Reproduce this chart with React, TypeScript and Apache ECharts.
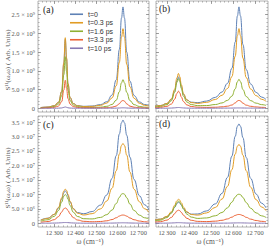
import { useEffect, useRef } from "react";
import * as echarts from "echarts";

// frequency grid (cm^-1)
const omega = [12235, 12270, 12300, 12320, 12335, 12345, 12352, 12358, 12365, 12375, 12390, 12410, 12440, 12480, 12520, 12550, 12575, 12595, 12610, 12620, 12627, 12634, 12645, 12660, 12680, 12705, 12730, 12750];

const seriesNames = ["t=0", "t=0.3 ps", "t=1.6 ps", "t=3.3 ps", "t=10 ps"];
const colors = ["#5e81b5", "#e19c24", "#8fb032", "#eb6235", "#8778b3"];

// panel (a), units of 1e9
const A_t0 = [0.019, 0.033, 0.069, 0.159, 0.446, 1.195, 1.834, 1.318, 0.649, 0.283, 0.126, 0.070, 0.052, 0.059, 0.097, 0.175, 0.351, 0.761, 1.570, 2.407, 2.702, 2.407, 1.494, 0.727, 0.338, 0.168, 0.099, 0.071];
const A_t03 = [0.018, 0.031, 0.068, 0.161, 0.455, 1.225, 1.881, 1.351, 0.663, 0.286, 0.125, 0.067, 0.046, 0.049, 0.078, 0.138, 0.276, 0.599, 1.234, 1.891, 2.122, 1.891, 1.173, 0.571, 0.266, 0.132, 0.078, 0.056];
const A_t16 = [0.011, 0.021, 0.047, 0.114, 0.330, 0.893, 1.374, 0.985, 0.481, 0.205, 0.086, 0.042, 0.024, 0.021, 0.030, 0.051, 0.101, 0.216, 0.443, 0.679, 0.762, 0.679, 0.421, 0.205, 0.096, 0.048, 0.029, 0.020];
const A_t33 = [0.005, 0.011, 0.025, 0.061, 0.178, 0.484, 0.746, 0.534, 0.260, 0.110, 0.045, 0.021, 0.011, 0.008, 0.010, 0.015, 0.028, 0.060, 0.123, 0.188, 0.211, 0.188, 0.117, 0.057, 0.027, 0.014, 0.008, 0.006];
const A_t10 = [0.000, 0.001, 0.001, 0.003, 0.008, 0.023, 0.035, 0.025, 0.012, 0.005, 0.002, 0.001, 0.001, 0.001, 0.001, 0.001, 0.002, 0.003, 0.007, 0.011, 0.012, 0.011, 0.007, 0.003, 0.002, 0.001, 0.000, 0.000];

// panel (b), units of 1e9
const B_t0 = [0.049, 0.073, 0.127, 0.236, 0.466, 0.735, 0.840, 0.765, 0.578, 0.367, 0.221, 0.161, 0.150, 0.191, 0.290, 0.434, 0.664, 1.066, 1.764, 2.461, 2.703, 2.460, 1.699, 1.034, 0.648, 0.423, 0.298, 0.233];
const B_t03 = [0.045, 0.070, 0.129, 0.250, 0.508, 0.810, 0.928, 0.842, 0.630, 0.390, 0.224, 0.151, 0.130, 0.157, 0.234, 0.347, 0.527, 0.843, 1.389, 1.934, 2.124, 1.934, 1.338, 0.818, 0.514, 0.337, 0.238, 0.186];
const B_t16 = [0.028, 0.048, 0.097, 0.201, 0.425, 0.688, 0.790, 0.713, 0.527, 0.316, 0.167, 0.098, 0.070, 0.072, 0.099, 0.142, 0.210, 0.324, 0.516, 0.707, 0.773, 0.707, 0.498, 0.314, 0.203, 0.136, 0.097, 0.076];
const B_t33 = [0.013, 0.024, 0.052, 0.112, 0.242, 0.396, 0.455, 0.410, 0.301, 0.177, 0.089, 0.047, 0.028, 0.023, 0.027, 0.038, 0.055, 0.086, 0.140, 0.193, 0.212, 0.193, 0.134, 0.083, 0.052, 0.035, 0.025, 0.019];
const B_t10 = [0.001, 0.001, 0.002, 0.005, 0.011, 0.017, 0.020, 0.018, 0.013, 0.008, 0.004, 0.002, 0.002, 0.002, 0.002, 0.003, 0.004, 0.005, 0.007, 0.008, 0.008, 0.008, 0.007, 0.005, 0.004, 0.003, 0.002, 0.002];

// panel (c), units of 1e7
const C_t0 = [0.113, 0.175, 0.308, 0.528, 0.835, 1.052, 1.116, 1.077, 0.950, 0.734, 0.506, 0.370, 0.329, 0.405, 0.627, 0.980, 1.550, 2.340, 3.093, 3.478, 3.570, 3.477, 3.042, 2.287, 1.512, 0.951, 0.641, 0.487];
const C_t03 = [0.105, 0.169, 0.311, 0.547, 0.878, 1.113, 1.181, 1.137, 0.997, 0.758, 0.504, 0.348, 0.285, 0.331, 0.498, 0.770, 1.209, 1.816, 2.395, 2.691, 2.761, 2.690, 2.355, 1.774, 1.177, 0.743, 0.502, 0.382];
const C_t16 = [0.069, 0.121, 0.240, 0.444, 0.732, 0.936, 0.994, 0.953, 0.827, 0.613, 0.383, 0.234, 0.157, 0.149, 0.201, 0.298, 0.458, 0.682, 0.895, 1.004, 1.030, 1.003, 0.879, 0.664, 0.442, 0.280, 0.190, 0.145];
const C_t33 = [0.033, 0.060, 0.123, 0.233, 0.388, 0.498, 0.529, 0.506, 0.438, 0.321, 0.195, 0.112, 0.066, 0.051, 0.060, 0.084, 0.127, 0.189, 0.248, 0.278, 0.285, 0.278, 0.243, 0.182, 0.121, 0.076, 0.052, 0.039];
const C_t10 = [0.002, 0.003, 0.006, 0.011, 0.018, 0.024, 0.025, 0.024, 0.021, 0.015, 0.009, 0.005, 0.003, 0.002, 0.003, 0.004, 0.006, 0.009, 0.013, 0.015, 0.015, 0.015, 0.013, 0.009, 0.006, 0.004, 0.002, 0.002];

// panel (d), units of 1e7
const D_t0 = [0.099, 0.142, 0.228, 0.363, 0.549, 0.681, 0.722, 0.702, 0.630, 0.507, 0.381, 0.315, 0.320, 0.426, 0.670, 1.032, 1.587, 2.322, 3.007, 3.354, 3.436, 3.353, 2.962, 2.275, 1.553, 1.008, 0.694, 0.533];
const D_t03 = [0.094, 0.141, 0.239, 0.399, 0.622, 0.780, 0.827, 0.800, 0.710, 0.556, 0.395, 0.302, 0.282, 0.357, 0.548, 0.837, 1.276, 1.854, 2.392, 2.663, 2.727, 2.662, 2.356, 1.816, 1.247, 0.814, 0.563, 0.433];
const D_t16 = [0.065, 0.105, 0.197, 0.350, 0.565, 0.717, 0.761, 0.732, 0.640, 0.484, 0.317, 0.213, 0.167, 0.183, 0.259, 0.372, 0.534, 0.730, 0.903, 0.988, 1.007, 0.987, 0.890, 0.715, 0.520, 0.358, 0.256, 0.200];
const D_t33 = [0.030, 0.053, 0.108, 0.201, 0.333, 0.426, 0.452, 0.434, 0.375, 0.277, 0.171, 0.102, 0.065, 0.057, 0.072, 0.102, 0.149, 0.211, 0.269, 0.298, 0.305, 0.297, 0.264, 0.205, 0.142, 0.094, 0.066, 0.051];
const D_t10 = [0.002, 0.002, 0.005, 0.009, 0.014, 0.019, 0.020, 0.019, 0.017, 0.012, 0.007, 0.004, 0.003, 0.002, 0.003, 0.004, 0.005, 0.008, 0.011, 0.013, 0.013, 0.013, 0.011, 0.008, 0.005, 0.003, 0.002, 0.002];

// ticks
const xTicks = [12300, 12400, 12500, 12600, 12700];
const xTickLabels = ["12\u2009300", "12\u2009400", "12\u2009500", "12\u2009600", "12\u2009700"];
const yTicksTop = [0, 0.5, 1, 1.5, 2, 2.5];
const yTickLabelsTop = ["0", "5.0 × 10⁸", "1.0 × 10⁹", "1.5 × 10⁹", "2.0 × 10⁹", "2.5 × 10⁹"];
const yTicksBottom = [0, 0.5, 1, 1.5, 2, 2.5, 3, 3.5];
const yTickLabelsBottom = ["0", "5.0 × 10⁶", "1.0 × 10⁷", "1.5 × 10⁷", "2.0 × 10⁷", "2.5 × 10⁷", "3.0 × 10⁷", "3.5 × 10⁷"];

const panelLabels = ["(a)", "(b)", "(c)", "(d)"];
const yAxisTitle = "S¹¹(ω,ω) ( Arb. Units)";
const xAxisTitle = "ω (cm⁻¹)";

const SERIF = "'Liberation Serif', 'DejaVu Serif', serif";
const TICK = "#8c8c8c";

function range(a: number, b: number, step: number) {
  const out: number[] = [];
  for (let v = a; v <= b + 1e-9; v += step) out.push(Math.round(v * 1000) / 1000);
  return out;
}

export default function App() {
  const ref = useRef<HTMLDivElement>(null);
  useEffect(() => {
    if (!ref.current) return;
    const chart = echarts.init(ref.current, undefined, { renderer: "svg" });

    const panels = [
      { grid: { left: 38, top: 1, width: 111, height: 111 }, xr: [12222, 12751], yr: [-0.1, 2.86], yt: yTicksTop, yl: yTickLabelsTop, showY: true, showX: false, data: [A_t0, A_t03, A_t16, A_t33, A_t10] },
      { grid: { left: 156, top: 1, width: 112, height: 111 }, xr: [12250, 12759], yr: [-0.1, 2.86], yt: yTicksTop, yl: yTickLabelsTop, showY: false, showX: false, data: [B_t0, B_t03, B_t16, B_t33, B_t10] },
      { grid: { left: 38, top: 116, width: 111, height: 111 }, xr: [12222, 12751], yr: [-0.13, 3.71], yt: yTicksBottom, yl: yTickLabelsBottom, showY: true, showX: true, data: [C_t0, C_t03, C_t16, C_t33, C_t10] },
      { grid: { left: 156, top: 116, width: 112, height: 111 }, xr: [12250, 12759], yr: [-0.13, 3.71], yt: yTicksBottom, yl: yTickLabelsBottom, showY: false, showX: true, data: [D_t0, D_t03, D_t16, D_t33, D_t10] },
    ];

    const grids: any[] = [];
    const xAxes: any[] = [];
    const yAxes: any[] = [];
    const series: any[] = [];
    const xMinor = range(12240, 12740, 20);

    panels.forEach((p, gi) => {
      grids.push({ ...p.grid, containLabel: false, show: true, borderColor: "#a0a0a0", borderWidth: 0.8, backgroundColor: "transparent" });
      const yMinor = range(0, p.yr[1], 0.1);
      const xBase = { type: "value", gridIndex: gi, min: p.xr[0], max: p.xr[1], axisLine: { show: false, onZero: false }, splitLine: { show: false } };
      const yBase = { type: "value", gridIndex: gi, min: p.yr[0], max: p.yr[1], axisLine: { show: false, onZero: false }, splitLine: { show: false } };
      (["bottom", "top"] as const).forEach((pos) => {
        xAxes.push({
          ...xBase, position: pos,
          axisTick: { inside: true, length: 3, customValues: xTicks, lineStyle: { color: TICK, width: 0.8 } },
          axisLabel: pos === "bottom" && p.showX ? {
            show: true, customValues: xTicks, margin: 2, fontSize: 6.4, fontFamily: SERIF, color: "#555",
            formatter: (v: number) => xTickLabels[xTicks.indexOf(v)] ?? "",
          } : { show: false },
        });
        xAxes.push({
          ...xBase, position: pos,
          axisTick: { inside: true, length: 1.6, customValues: xMinor, lineStyle: { color: TICK, width: 0.6 } },
          axisLabel: { show: false },
        });
      });
      (["left", "right"] as const).forEach((pos) => {
        yAxes.push({
          ...yBase, position: pos,
          axisTick: { inside: true, length: 3, customValues: p.yt, lineStyle: { color: TICK, width: 0.8 } },
          axisLabel: pos === "left" && p.showY ? {
            show: true, customValues: p.yt, margin: 3, fontSize: 6.4, fontFamily: SERIF, color: "#555",
            formatter: (v: number) => p.yl[p.yt.indexOf(v)] ?? "",
          } : { show: false },
        });
        yAxes.push({
          ...yBase, position: pos,
          axisTick: { inside: true, length: 1.6, customValues: yMinor, lineStyle: { color: TICK, width: 0.6 } },
          axisLabel: { show: false },
        });
      });
      p.data.forEach((arr, si) => {
        series.push({
          type: "line", name: seriesNames[si], xAxisIndex: gi * 4, yAxisIndex: gi * 4,
          data: omega.map((w, i) => [w, arr[i]]),
          showSymbol: false, symbol: "none", smooth: 0.45, smoothMonotone: "x",
          lineStyle: { color: colors[si], width: 1 }, itemStyle: { color: colors[si] },
          silent: true, z: 2 + si,
        });
      });
    });

    const graphics: any[] = [
      { type: "text", x: 43, y: 5, style: { text: panelLabels[0], font: `9.5px ${SERIF}`, fill: "#222" } },
      { type: "text", x: 159, y: 4, style: { text: panelLabels[1], font: `9.5px ${SERIF}`, fill: "#222" } },
      { type: "text", x: 43, y: 120, style: { text: panelLabels[2], font: `9.5px ${SERIF}`, fill: "#222" } },
      { type: "text", x: 159, y: 119, style: { text: panelLabels[3], font: `9.5px ${SERIF}`, fill: "#222" } },
      { type: "text", x: 8, y: 60, rotation: Math.PI / 2, style: { text: yAxisTitle, font: `7px ${SERIF}`, fill: "#555", align: "center", verticalAlign: "middle" } },
      { type: "text", x: 8, y: 178, rotation: Math.PI / 2, style: { text: yAxisTitle, font: `7px ${SERIF}`, fill: "#555", align: "center", verticalAlign: "middle" } },
      { type: "text", x: 90, y: 241, style: { text: xAxisTitle, font: `7.5px ${SERIF}`, fill: "#555", align: "center", verticalAlign: "middle" } },
      { type: "text", x: 210, y: 241, style: { text: xAxisTitle, font: `7.5px ${SERIF}`, fill: "#555", align: "center", verticalAlign: "middle" } },
    ];

    chart.setOption({
      animation: false,
      backgroundColor: "#fff",
      grid: grids,
      xAxis: xAxes,
      yAxis: yAxes,
      series,
      legend: {
        data: seriesNames,
        orient: "vertical",
        left: 70,
        top: 10,
        icon: "rect",
        itemWidth: 13,
        itemHeight: 1.6,
        itemGap: 0,
        padding: 0,
        selectedMode: false,
        textStyle: { fontSize: 7, fontFamily: "'Liberation Sans', Arial, sans-serif", color: "#333", lineHeight: 8.5, padding: [0, 0, 0, 0] },
      },
      graphic: graphics,
    });
    return () => chart.dispose();
  }, []);
  return <div ref={ref} style={{ position: "fixed", left: 0, top: 0, width: 269, height: 247, background: "#fff" }} />;
}
